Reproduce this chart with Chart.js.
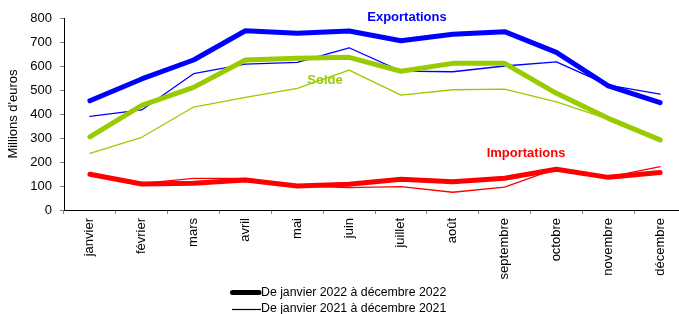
<!DOCTYPE html>
<html>
<head>
<meta charset="utf-8">
<script src="https://cdn.jsdelivr.net/npm/chart.js@4/dist/chart.umd.min.js"></script>
<style>
html, body { margin: 0; padding: 0; overflow: hidden; background: #fff; }
#wrap { position: relative; width: 686px; height: 314px; }
</style>
</head>
<body>
<div id="wrap"><canvas id="c" width="686" height="314"></canvas></div>
<script>
const months = ['janvier','février','mars','avril','mai','juin','juillet','août','septembre','octobre','novembre','décembre'];
const exports2022 = [455,546,625,747,736,746,705,732,743,657,517,447];
const exports2021 = [390,417,568,608,615,676,579,576,600,617,520,483];
const solde2022   = [305,436,511,625,632,636,578,611,611,486,382,292];
const solde2021   = [236,303,429,469,507,583,479,501,504,451,379,290];
const imports2022 = [149,108,111,125,100,107,128,118,132,170,136,156];
const imports2021 = [150,111,132,132,101,93,97,74,95,172,137,181];
const yTicks = [0,100,200,300,400,500,600,700,800];
const legendLabels = ['De janvier 2022 à décembre 2022','De janvier 2021 à décembre 2021'];
const seriesLabels = ['Exportations','Solde','Importations'];

const FONT = '"Liberation Sans", Arial, sans-serif';
const BLUE = '#0000FF', GREEN = '#99CC00', RED = '#FF0000';

function ds(label, data, color, thick) {
  return {
    label, data,
    borderColor: color,
    backgroundColor: color,
    borderWidth: thick ? 5 : 1.3,
    pointRadius: 0,
    tension: 0,
    borderJoinStyle: 'round',
    borderCapStyle: 'round',
    fill: false,
    order: thick ? 1 : 2
  };
}

const overlay = {
  id: 'overlay',
  afterDraw(chart) {
    const ctx = chart.ctx;
    ctx.save();
    // series labels
    ctx.font = 'bold 13px ' + FONT;
    ctx.textAlign = 'center';
    ctx.textBaseline = 'middle';
    ctx.fillStyle = BLUE;  ctx.fillText(seriesLabels[0], 407, 17);
    ctx.fillStyle = GREEN; ctx.fillText(seriesLabels[1], 325, 80);
    ctx.fillStyle = RED;   ctx.fillText(seriesLabels[2], 526, 153);
    // legend
    ctx.strokeStyle = '#000';
    ctx.lineCap = 'round';
    ctx.lineWidth = 5;
    ctx.beginPath(); ctx.moveTo(232.5, 292.5); ctx.lineTo(259, 292.5); ctx.stroke();
    ctx.lineCap = 'butt';
    ctx.lineWidth = 1.2;
    ctx.beginPath(); ctx.moveTo(232, 309.5); ctx.lineTo(261, 309.5); ctx.stroke();
    ctx.font = '12.3px ' + FONT;
    ctx.textAlign = 'left';
    ctx.fillStyle = '#000';
    ctx.fillText(legendLabels[0], 261, 292.5);
    ctx.fillText(legendLabels[1], 261, 309);
    ctx.restore();
  }
};

new Chart(document.getElementById('c'), {
  type: 'line',
  data: {
    labels: months,
    datasets: [
      ds('Exportations 2022', exports2022, BLUE, true),
      ds('Solde 2022', solde2022, GREEN, true),
      ds('Importations 2022', imports2022, RED, true),
      ds('Exportations 2021', exports2021, BLUE, false),
      ds('Solde 2021', solde2021, GREEN, false),
      ds('Importations 2021', imports2021, RED, false)
    ]
  },
  options: {
    responsive: false,
    animation: false,
    events: [],
    layout: { padding: { top: 18, left: 0, right: 0, bottom: 0 } },
    plugins: { legend: { display: false }, tooltip: { enabled: false } },
    scales: {
      x: {
        offset: true,
        grid: { offset: true, drawOnChartArea: false, tickLength: 4, color: '#808080' },
        border: { color: '#000', width: 1 },
        ticks: {
          autoSkip: false, minRotation: 90, maxRotation: 90, padding: 4,
          color: '#000', font: { family: FONT, size: 13 }
        },
        afterFit(scale) { scale.height = 104; }
      },
      y: {
        min: 0, max: 800,
        afterBuildTicks(scale) { scale.ticks = yTicks.map(v => ({ value: v })); },
        grid: { drawOnChartArea: false, tickLength: 4, color: '#808080' },
        border: { color: '#000', width: 1 },
        ticks: { padding: 8, color: '#000', font: { family: FONT, size: 13 } },
        title: {
          display: true, text: "Millions d'euros", color: '#000',
          font: { family: FONT, size: 13 }, padding: { top: 6, bottom: 4 }
        },
        afterFit(scale) { scale.width = 64; }
      }
    }
  },
  plugins: [overlay]
});
</script>
</body>
</html>
